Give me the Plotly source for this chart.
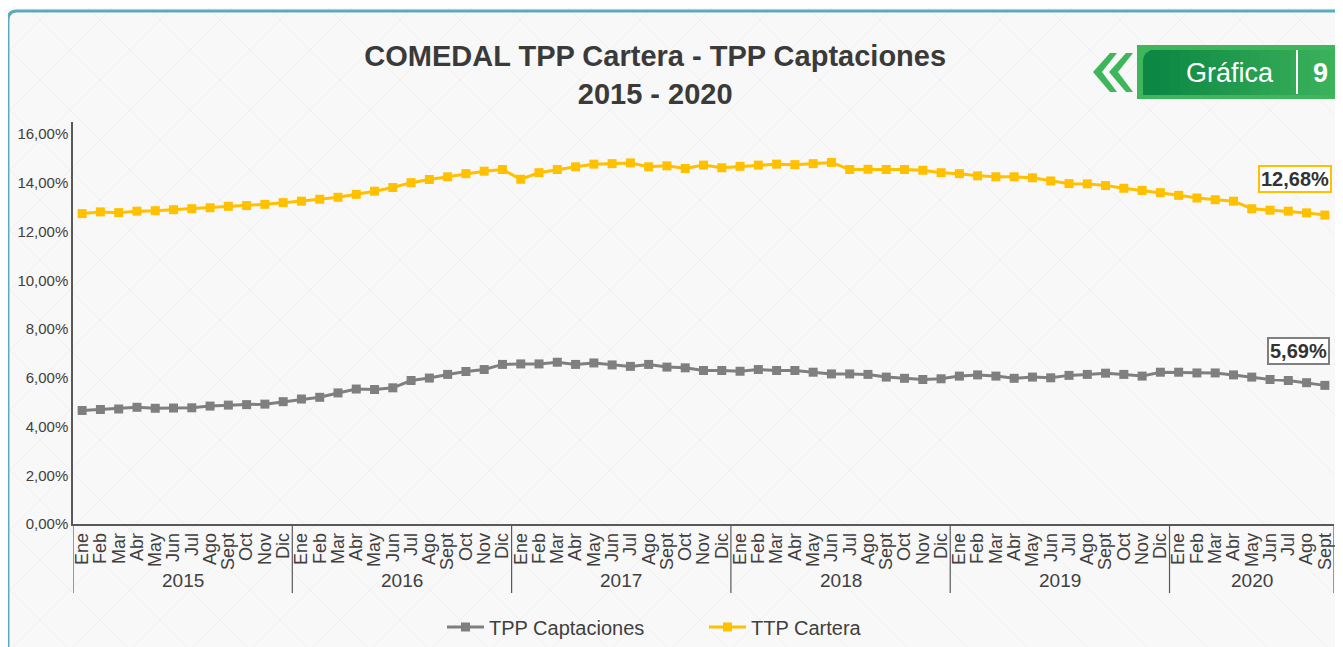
import plotly.graph_objects as go

# --- data ---
YEARS = ["2015", "2016", "2017", "2018", "2019", "2020"]
MONTHS = ["Ene", "Feb", "Mar", "Abr", "May", "Jun",
          "Jul", "Ago", "Sept", "Oct", "Nov", "Dic"]
MONTHS_LAST_YEAR = 9  # 2020 ends in Sept

tpp_captaciones = [
    4.66, 4.70, 4.72, 4.79, 4.75, 4.76, 4.77, 4.84, 4.88, 4.90, 4.92, 5.02,
    5.13, 5.20, 5.38, 5.54, 5.52, 5.59, 5.89, 5.99, 6.14, 6.26, 6.34, 6.55,
    6.57, 6.57, 6.64, 6.55, 6.61, 6.53, 6.47, 6.55, 6.44, 6.41, 6.30, 6.30,
    6.27, 6.34, 6.30, 6.30, 6.23, 6.16, 6.16, 6.14, 6.03, 5.98, 5.93, 5.96,
    6.07, 6.12, 6.07, 5.98, 6.03, 6.00, 6.10, 6.14, 6.19, 6.14, 6.07, 6.23,
    6.23, 6.20, 6.20, 6.12, 6.03, 5.93, 5.89, 5.80, 5.69,
]
ttp_cartera = [
    12.74, 12.81, 12.78, 12.84, 12.86, 12.90, 12.94, 12.98, 13.04, 13.07, 13.12, 13.19,
    13.25, 13.33, 13.41, 13.53, 13.66, 13.81, 14.01, 14.14, 14.25, 14.38, 14.48, 14.55,
    14.15, 14.42, 14.55, 14.66, 14.77, 14.79, 14.82, 14.66, 14.70, 14.59, 14.73, 14.62,
    14.68, 14.73, 14.77, 14.75, 14.79, 14.84, 14.55, 14.56, 14.55, 14.55, 14.52, 14.42,
    14.38, 14.29, 14.25, 14.25, 14.21, 14.08, 13.97, 13.96, 13.89, 13.78, 13.69, 13.60,
    13.49, 13.38, 13.31, 13.25, 12.94, 12.88, 12.84, 12.77, 12.68,
]

# month index along the x axis, with its year
year_level, month_level = [], []
for y in YEARS:
    n = MONTHS_LAST_YEAR if y == YEARS[-1] else 12
    year_level += [y] * n
    month_level += MONTHS[:n]
idx = list(range(len(month_level)))

GRAY = "#7f7f7f"
YELLOW = "#ffc000"
TEXT = "#404040"
AXIS = "#595959"
TEAL = "#5aabbc"
GREEN = "#3fb55c"

# the page body has an 8px margin on each side, so the figure is laid out
# 8px up/left and kept inside the visible width
OFF = 8
W, H = 1343 - 2 * OFF, 647 - OFF
L, R, T, B = 73 - OFF, 1334 - OFF, 122 - OFF, 524 - OFF  # plot area in pixels


def px(x):
    return (x - OFF - L) / (R - L)


def py(y):
    return (B - (y - OFF)) / (B - T)


fig = go.Figure()
fig.add_trace(go.Scatter(
    x=idx, y=tpp_captaciones, name="TPP Captaciones",
    mode="lines+markers", line=dict(color=GRAY, width=3),
    marker=dict(symbol="square", size=9, color=GRAY),
))
fig.add_trace(go.Scatter(
    x=idx, y=ttp_cartera, name="TTP Cartera",
    mode="lines+markers", line=dict(color=YELLOW, width=3),
    marker=dict(symbol="square", size=9, color=YELLOW),
))


def fmt(v):
    return f"{v:.2f}".replace(".", ",") + "%"


last = idx[-1]
for vals, col, dx, dy in [(ttp_cartera, YELLOW, -30, 36), (tpp_captaciones, GRAY, -26, 34)]:
    fig.add_annotation(
        x=last, y=vals[-1], xref="x", yref="y", text=f"<b>{fmt(vals[-1])}</b>",
        showarrow=False, xshift=dx, yshift=dy, bgcolor="white",
        bordercolor=col, borderwidth=2, borderpad=1,
        font=dict(size=20, color="#333333", family="Liberation Sans"),
    )

shapes = []
# year groups: labels and dividers below the axis
bounds = [0]
for y in YEARS:
    bounds.append(bounds[-1] + year_level.count(y))
for i, y in enumerate(YEARS):
    fig.add_annotation(x=(bounds[i] + bounds[i + 1] - 1) / 2, y=py(580), xref="x", yref="paper",
                       text=y, showarrow=False, xanchor="center", yanchor="middle",
                       font=dict(size=19, color=TEXT))
for b in bounds:
    shapes.append(dict(type="line", xref="x", yref="paper", x0=b - 0.5, x1=b - 0.5,
                       y0=0, y1=py(593), line=dict(color=AXIS, width=1.2)))

# faint diagonal background hatching
for k in range(-700, 1400, 60):
    shapes.append(dict(type="line", xref="paper", yref="paper",
                       x0=px(k), y0=py(0), x1=px(k + 700), y1=py(700),
                       line=dict(color="rgba(0,0,0,0.03)", width=1), layer="below"))
for k in range(-700, 700, 60):
    shapes.append(dict(type="line", xref="paper", yref="paper",
                       x0=px(k + 700), y0=py(0), x1=px(k), y1=py(700),
                       line=dict(color="rgba(0,0,0,0.03)", width=1), layer="below"))
# teal frame
shapes.append(dict(type="path", xref="paper", yref="paper",
                   path=f"M {px(8)} {py(660)} L {px(8)} {py(20)} Q {px(8)} {py(11)} {px(17)} {py(11)} L {px(1350)} {py(11)}",
                   line=dict(color=TEAL, width=3)))
# green badge
shapes.append(dict(type="rect", xref="paper", yref="paper",
                   x0=px(1137), x1=px(1350), y0=py(99), y1=py(45),
                   fillcolor=GREEN, line=dict(width=0)))
n_strip = 20
for i in range(n_strip):
    a = i / (n_strip - 1)
    r = int(0x0c + (0x3f - 0x0c) * a)
    g = int(0x88 + (0xb5 - 0x88) * a)
    b = int(0x44 + (0x5c - 0x44) * a)
    xa = 1150 + i * (1350 - 1150) / n_strip
    xb = 1150 + (i + 1) * (1350 - 1150) / n_strip + 0.5
    shapes.append(dict(type="rect", xref="paper", yref="paper",
                       x0=px(xa), x1=px(xb), y0=py(95), y1=py(50),
                       fillcolor=f"rgb({r},{g},{b})", line=dict(width=0)))
shapes.append(dict(type="path", xref="paper", yref="paper",
                   path=f"M {px(1143)} {py(95)} L {px(1143)} {py(62)} Q {px(1143)} {py(50)} {px(1156)} {py(50)} L {px(1151)} {py(50)} L {px(1151)} {py(95)} Z",
                   fillcolor="rgb(12,136,68)", line=dict(width=0)))
shapes.append(dict(type="line", xref="paper", yref="paper",
                   x0=px(1297), x1=px(1297), y0=py(50), y1=py(94),
                   line=dict(color="white", width=2)))
# double chevron
for off in (0, 16):
    x0 = 1093 + off
    shapes.append(dict(type="path", xref="paper", yref="paper",
                       path=(f"M {px(x0 + 17)} {py(53)} L {px(x0)} {py(72)} L {px(x0 + 17)} {py(92)} "
                             f"L {px(x0 + 24)} {py(92)} L {px(x0 + 9)} {py(72)} L {px(x0 + 24)} {py(53)} Z"),
                       fillcolor=GREEN, line=dict(width=0)))

fig.add_annotation(xref="paper", yref="paper", x=px(1230), y=py(73), text="Gráfica",
                   xanchor="center", yanchor="middle", showarrow=False,
                   font=dict(size=27, color="white", family="Liberation Sans"))
fig.add_annotation(xref="paper", yref="paper", x=px(1320), y=py(73), text="<b>9</b>",
                   xanchor="center", yanchor="middle", showarrow=False,
                   font=dict(size=27, color="white", family="Liberation Sans"))

fig.update_layout(
    width=W, height=H,
    margin=dict(l=L, r=W - R, t=T, b=H - B, autoexpand=False),
    paper_bgcolor="#f8f8f8", plot_bgcolor="rgba(0,0,0,0)",
    separators=",.",
    font=dict(family="Liberation Sans", color=TEXT),
    title=dict(
        text="<b>COMEDAL TPP Cartera - TPP Captaciones<br>2015 - 2020</b>",
        x=px(688), xanchor="center", y=1 - (66 - OFF) / H, yanchor="middle",
        font=dict(size=29, color="#3a3a3a"),
    ),
    shapes=shapes,
    showlegend=True,
    legend=dict(orientation="h", x=px(704), xanchor="center", y=py(627), yanchor="middle",
                font=dict(size=20, color=TEXT), bgcolor="rgba(0,0,0,0)", itemwidth=37,
                entrywidth=210, traceorder="normal"),
)
fig.update_xaxes(
    range=[-0.5, last + 0.5], tickmode="array", tickvals=idx, ticktext=month_level,
    tickangle=-90, showline=True, linecolor=AXIS, linewidth=1.5,
    showgrid=False, zeroline=False, ticks="",
    tickfont=dict(size=18, color=TEXT),
)
fig.update_yaxes(
    range=[0, 16.5], dtick=2, tickformat=".2f", ticksuffix="%", showline=True,
    linecolor=AXIS, linewidth=1.5, showgrid=False, zeroline=False, ticks="",
    tickfont=dict(size=15, color=TEXT),
)

fig.write_html("out.html")
